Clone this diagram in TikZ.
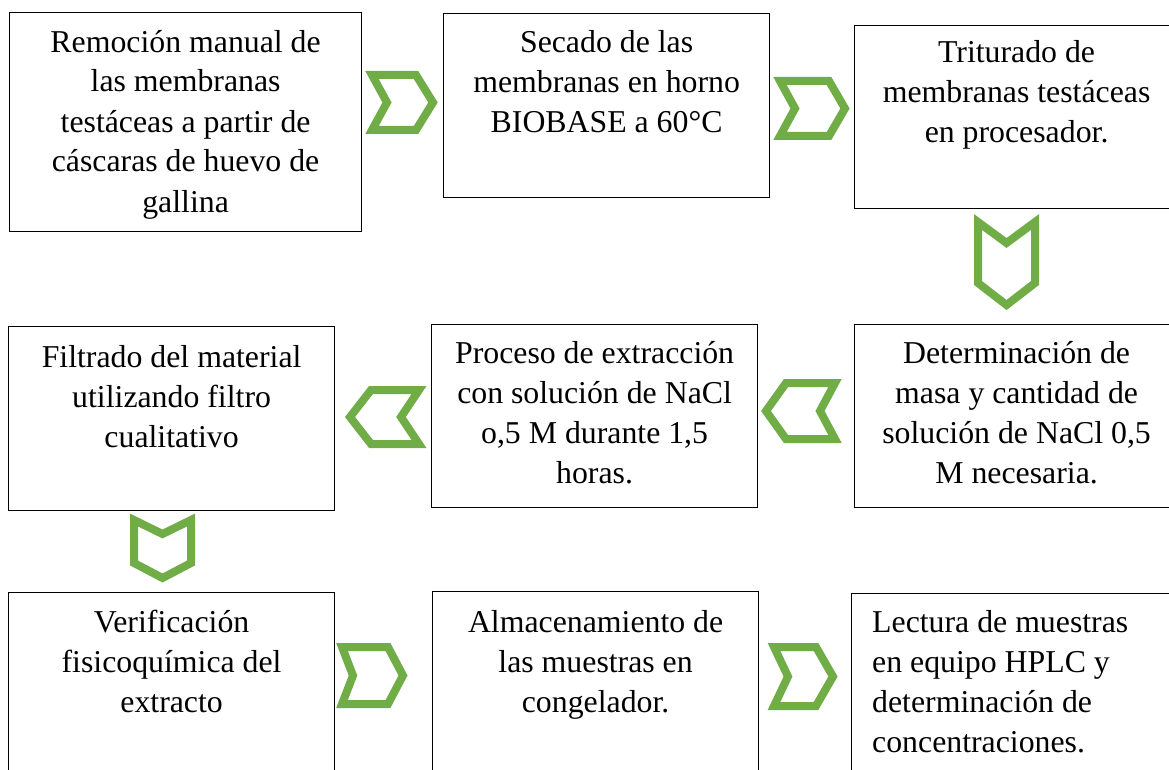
\documentclass[tikz,border=0pt]{standalone}
\usepackage{fontspec}
\setmainfont{Liberation Serif}
\definecolor{chevgreen}{HTML}{70AD47}
\tikzset{
  caja/.style={draw, line width=1.2pt, inner sep=0pt, anchor=north west},
  texto/.style={font=\fontsize{31.8}{40}\selectfont, align=center, inner sep=0pt, anchor=base},
  chev/.style={draw=chevgreen, line width=8pt, line join=miter}
}
\begin{document}
\begin{tikzpicture}[x=1pt,y=-1pt]
            \useasboundingbox (0,0) rectangle (1169,770);

            \node[caja, minimum width=352, minimum height=219] (remocion) at (9,12) {};
            \node[caja, minimum width=326, minimum height=184] (secado) at (443,13) {};
            \node[caja, minimum width=324, minimum height=183] (triturado) at (854,25) {};
            \node[caja, minimum width=326, minimum height=184] (filtrado) at (8,326) {};
            \node[caja, minimum width=326, minimum height=183] (extraccion) at (431,324) {};
            \node[caja, minimum width=324, minimum height=183] (masa) at (854,324) {};
            \node[caja, minimum width=326, minimum height=200] (verificacion) at (8,592) {};
            \node[caja, minimum width=326, minimum height=200] (almacen) at (432,591) {};
            \node[caja, minimum width=327, minimum height=200] (lectura) at (851,593) {};

            % base = baseline of the last line
            \node[texto] (remocion-t) at ([yshift=-200pt]remocion.north) {Remoción manual de\\las membranas\\testáceas a partir de\\cáscaras de huevo de\\gallina};
            \node[texto] (secado-t) at ([yshift=-120pt]secado.north) {Secado de las\\membranas en horno\\BIOBASE a 60°C};
            \node[texto] (triturado-t) at ([yshift=-118pt]triturado.north) {Triturado de\\membranas testáceas\\en procesador.};
            \node[texto] (filtrado-t) at ([yshift=-121pt]filtrado.north) {Filtrado del material\\utilizando filtro\\cualitativo};
            \node[texto] (extraccion-t) at ([yshift=-159pt]extraccion.north) {Proceso de extracción\\con solución de NaCl\\o,5 M durante 1,5\\horas.};
            \node[texto] (masa-t) at ([yshift=-159pt]masa.north) {Determinación de\\masa y cantidad de\\solución de NaCl 0,5\\M necesaria.};
            \node[texto] (verificacion-t) at ([yshift=-120pt]verificacion.north) {Verificación\\fisicoquímica del\\extracto};
            \node[texto] (almacen-t) at ([yshift=-121pt]almacen.north) {Almacenamiento de\\las muestras en\\congelador.};
            \node[texto, align=left, anchor=base west] (lectura-t) at ([xshift=21pt,yshift=-159pt]lectura.north west) {Lectura de muestras\\en equipo HPLC y\\determinación de\\concentraciones.};

            \draw[chev] (372,75) -- (416,75) -- (433,102.5) -- (416,130) -- (372,130) -- (387,102.5) -- cycle;
            \draw[chev] (780,81) -- (829,81) -- (845,108.5) -- (829,136) -- (780,136) -- (795,108.5) -- cycle;
            \draw[chev] (978,222) -- (1006.5,243) -- (1035,222) -- (1035,283) -- (1006.5,305) -- (978,283) -- cycle;
            \draw[chev] (419,390) -- (371,390) -- (350,417) -- (371,444) -- (419,444) -- (401,417) -- cycle;
            \draw[chev] (835,383) -- (786,383) -- (766,411) -- (786,439) -- (835,439) -- (820,411) -- cycle;
            \draw[chev] (134,520) -- (162.5,534) -- (191,520) -- (191,563) -- (162.5,578) -- (134,563) -- cycle;
            \draw[chev] (342,647) -- (388,647) -- (403,675.5) -- (388,704) -- (342,704) -- (353,675.5) -- cycle;
            \draw[chev] (774,647) -- (816,647) -- (833,676.5) -- (816,706) -- (774,706) -- (788,676.5) -- cycle;
        \end{tikzpicture}
\end{document}
